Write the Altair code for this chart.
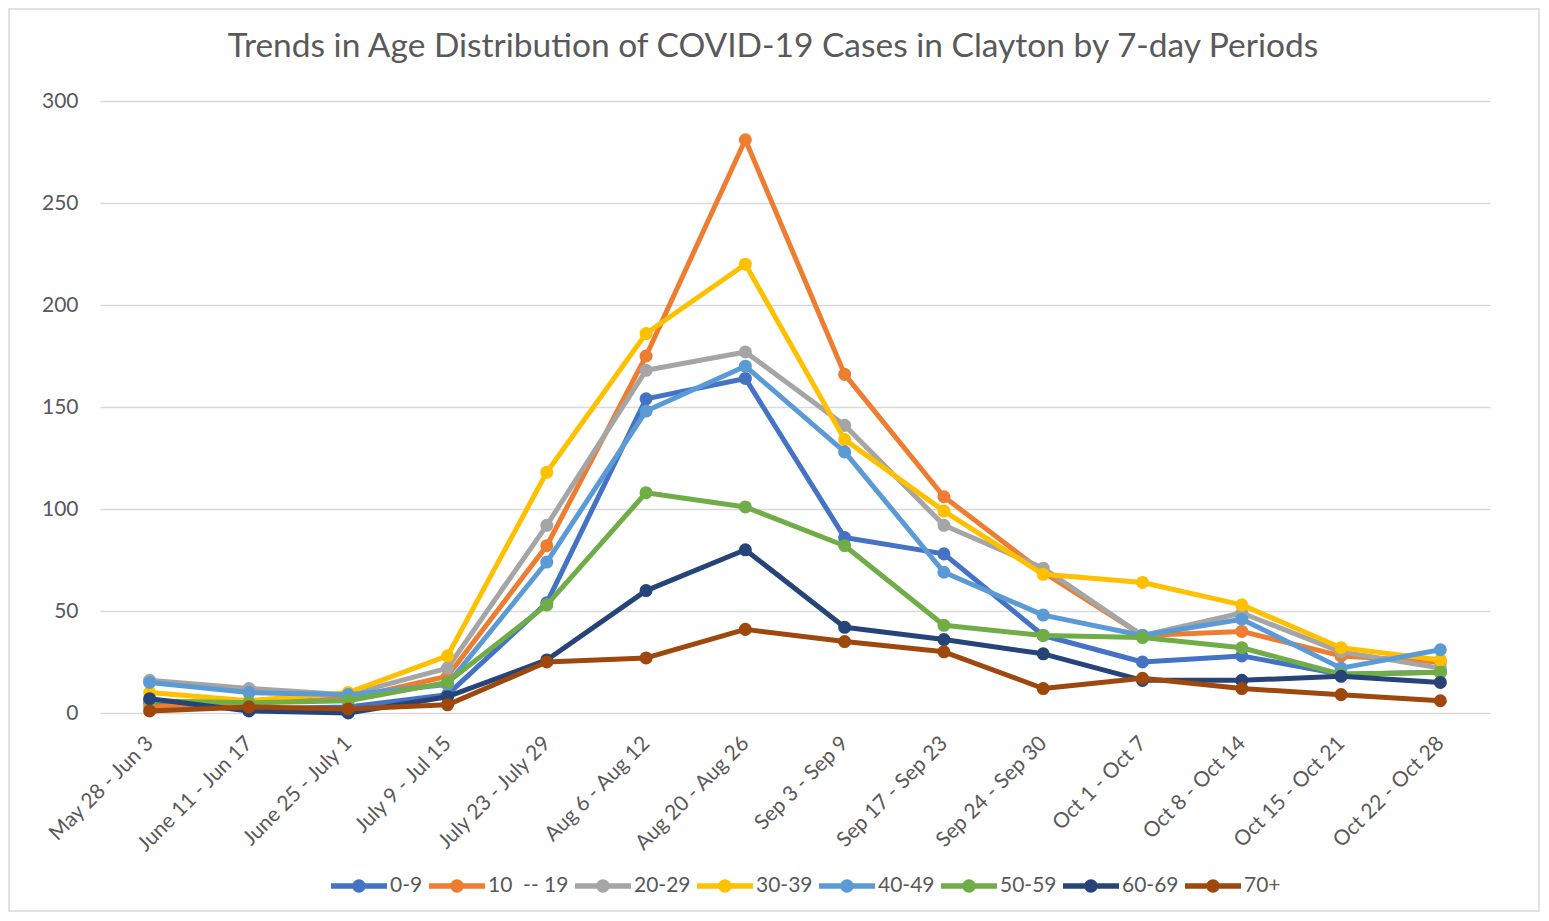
import altair as alt
import pandas as pd

periods = ["May 28 - Jun 3", "June 11 - Jun 17", "June 25 - July 1", "July 9 - Jul 15",
           "July 23 - July 29", "Aug 6 - Aug 12", "Aug 20 - Aug 26", "Sep 3 - Sep 9",
           "Sep 17 - Sep 23", "Sep 24 - Sep 30", "Oct 1 - Oct 7", "Oct 8 - Oct 14",
           "Oct 15 - Oct 21", "Oct 22 - Oct 28"]

groups = ["0-9", "10\u00a0 -- 19", "20-29", "30-39", "40-49", "50-59", "60-69", "70+"]
colors = ["#4472C4", "#ED7D31", "#A5A5A5", "#FFC000", "#5B9BD5", "#70AD47", "#264478", "#9E480E"]

v0_9 = [5, 2, 3, 9, 54, 154, 164, 86, 78, 38, 25, 28, 19, 20]
v10_19 = [3, 5, 7, 18, 82, 175, 281, 166, 106, 69, 38, 40, 28, 25]
v20_29 = [16, 12, 9, 22, 92, 168, 177, 141, 92, 71, 38, 49, 30, 22]
v30_39 = [10, 6, 10, 28, 118, 186, 220, 134, 99, 68, 64, 53, 32, 26]
v40_49 = [15, 10, 9, 14, 74, 148, 170, 128, 69, 48, 38, 46, 22, 31]
v50_59 = [6, 5, 6, 15, 53, 108, 101, 82, 43, 38, 37, 32, 19, 20]
v60_69 = [7, 1, 0, 8, 26, 60, 80, 42, 36, 29, 16, 16, 18, 15]
v70p = [1, 3, 2, 4, 25, 27, 41, 35, 30, 12, 17, 12, 9, 6]

series = [v0_9, v10_19, v20_29, v30_39, v40_49, v50_59, v60_69, v70p]

title_text = "Trends in Age Distribution of COVID-19 Cases in Clayton by 7-day Periods"

rows = []
for g, vals in zip(groups, series):
    for p, v in zip(periods, vals):
        rows.append({"period": p, "group": g, "cases": v})
df = pd.DataFrame(rows)

FONT = "Lato"
TXT = "#595959"

x_enc = alt.X("period:N", sort=periods,
              scale=alt.Scale(type="point", padding=0.5),
              axis=alt.Axis(title=None, labelAngle=315, labelAlign="right",
                            labelBaseline="middle", labelPadding=27,
                            labelFontSize=21, labelFont=FONT, labelColor=TXT,
                            domain=False, ticks=False, grid=False, labelOverlap=False))
y_enc = alt.Y("cases:Q", scale=alt.Scale(domain=[0, 300], nice=False),
              axis=alt.Axis(title=None, values=[0, 50, 100, 150, 200, 250, 300],
                            grid=True, gridColor="#d9d9d9", gridWidth=1.5,
                            domain=False, ticks=False, labelPadding=22,
                            labelFontSize=21, labelFont=FONT, labelColor=TXT))

sym = ("M-1,-0.1H1V0.1H-1Z "
       "M-0.24,0A0.24,0.24 0 1,1 0.24,0A0.24,0.24 0 1,1 -0.24,0Z")

legend = alt.Legend(title=None, orient="none", legendX=231, legendY=757,
                    direction="horizontal", columns=8, symbolType=sym,
                    symbolSize=3136, symbolStrokeWidth=0, symbolOpacity=1,
                    labelFontSize=21, labelFont=FONT, labelColor=TXT,
                    labelOffset=3, columnPadding=6, padding=0)

cscale = alt.Scale(domain=groups, range=colors)

one = pd.DataFrame({"k": [0]})
layers = []
border = alt.Chart(one).mark_rect(
    filled=False, stroke="#d9d9d9", strokeWidth=1.5
).encode(x=alt.value(-91), x2=alt.value(1439), y=alt.value(-92), y2=alt.value(810))
layers.append(border)

title = alt.Chart(one).mark_text(
    text=title_text, font=FONT, fontSize=33.5, color=TXT, align="center", baseline="middle"
).encode(x=alt.value(673), y=alt.value(-54))
layers.append(title)

for g in groups:
    base = alt.Chart(df).transform_filter(alt.datum.group == g)
    pts = base.mark_circle(size=170, opacity=1).encode(
        x=x_enc, y=y_enc, color=alt.Color("group:N", scale=cscale, legend=legend))
    line = base.mark_line(strokeWidth=5, strokeCap="round", strokeJoin="round").encode(
        x=x_enc, y=y_enc, color=alt.Color("group:N", scale=cscale, legend=None))
    layers += [pts, line]

chart = alt.layer(*layers).properties(
    width=1390, height=612,
    autosize=alt.AutoSizeParams(type="none"),
    padding={"left": 92, "top": 93, "right": 50, "bottom": 200},
).configure_view(stroke=None)

chart.save("out.html", embed_options={"renderer": "svg", "actions": False})
